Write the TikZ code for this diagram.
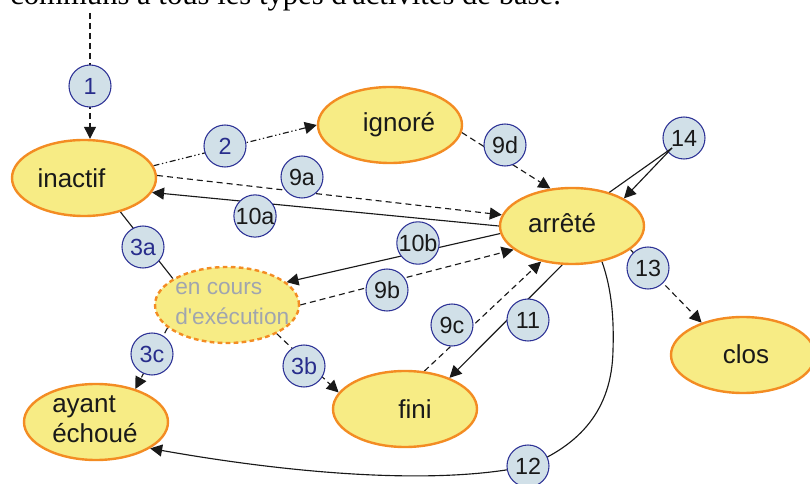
\documentclass[tikz,border=0pt]{standalone}
\usepackage{fontspec}
\setmainfont{Liberation Sans}[Ligatures=TeXOff]
\newfontfamily\serifont{Liberation Serif}
\usetikzlibrary{arrows.meta,shapes.geometric}
\pgfdeclarelayer{bg}
\pgfsetlayers{bg,main}
\definecolor{stfill}{RGB}{247,236,133}
\definecolor{stline}{RGB}{243,140,35}
\definecolor{cfill}{RGB}{209,224,232}
\definecolor{cline}{RGB}{45,50,150}
\definecolor{lblue}{RGB}{40,45,140}
\definecolor{egray}{RGB}{160,165,175}
\begin{document}
\begin{tikzpicture}[x=0.75pt,y=-0.75pt,
 state/.style={ellipse,draw=stline,fill=stfill,line width=1.8pt,minimum width=108pt,minimum height=57pt,inner sep=0pt},
 stxt/.style={inner sep=0pt,text=black!90,font=\fontsize{19.5}{22.5}\selectfont},
 num/.style={circle,draw=cline,fill=cfill,line width=0.8pt,minimum size=31.5pt,inner sep=0pt,font=\fontsize{17.5}{19}\selectfont,text=black!90},
 numb/.style={num,text=lblue},
 conn/.style={line width=0.85pt,draw=black!90},
 tip/.style={-{Triangle[length=9pt,width=9pt]}},
 dsh/.style={dash pattern=on 4.5pt off 3pt},
 ddot/.style={dash pattern=on 4.5pt off 2pt on 1pt off 2pt on 1pt off 2pt}]
\useasboundingbox (0,0) rectangle (810,484);
\clip (0,0) rectangle (810,484);

% top text (cut off)
\node[anchor=base west,inner sep=0pt,font=\serifont\fontsize{23}{26}\selectfont] (toptext) at (10,5) {communs à tous les types d'activités de base.};

% states
\node[state] (inactif) at (84,178) {};
\node[stxt] (tinactif) at (71.5,178) {inactif};
\node[state] (ignore) at (390,125) {};
\node[stxt] (tignore) at (399,125) {ignoré};
\node[state] (arrete) at (572,226) {};
\node[stxt] (tarrete) at (562,223) {arrêté};
\node[state,dash pattern=on 3.5pt off 2.5pt] (encours) at (227,305) {};
\node[stxt,align=left,anchor=west,text=egray,font=\fontsize{17}{22}\selectfont] (tencours) at (175,303.5) {en cours\\d'exécution};
\node[state] (ayant) at (96,422) {};
\node[stxt,align=left,anchor=west] (tayant) at (52,419.5) {ayant\\échoué};
\node[state] (fini) at (405,409) {};
\node[stxt] (tfini) at (415,409) {fini};
\node[state] (clos) at (743,355) {};
\node[stxt] (tclos) at (746,354) {clos};

% numbered circles
\node[numb] (n1) at (90,86) {1};
\node[numb] (n2) at (225,146) {2};
\node[num] (n9a) at (302,177) {9a};
\node[num] (n10a) at (255,216) {10a};
\node[numb] (n3a) at (143,247) {3a};
\node[num] (n9d) at (505,145) {9d};
\node[num] (n14) at (684,138) {14};
\node[num] (n10b) at (418,243) {10b};
\node[num] (n9b) at (387,290) {9b};
\node[num] (n9c) at (452,325) {9c};
\node[num] (n11) at (528,320) {11};
\node[num] (n13) at (648,268) {13};
\node[numb] (n3c) at (152,354) {3c};
\node[numb] (n3b) at (304,366) {3b};
\node[num] (n12) at (528,466) {12};

% connectors
\begin{pgfonlayer}{bg}
\coordinate (c1) at (90,13);
\draw[conn,dsh,tip] (c1) -- (c1 |- inactif.north);
\draw[conn,ddot,tip] (inactif.10) -- (ignore.west);
\draw[conn,dsh,tip] (inactif.2) -- (arrete.171);
\draw[conn,tip] (arrete.west) -- (inactif.-12);
\draw[conn,dsh,tip] (ignore.354) -- (arrete.120);
\draw[conn] (inactif.317) -- (encours.154);
\draw[conn,tip] (arrete.186) -- (encours.21);
\draw[conn,dsh,tip] (encours.east) -- (arrete.202);
\draw[conn,dsh,tip] (encours.201) -- (ayant.40);
\draw[conn,dsh,tip] (encours.330) -- (fini.166);
\draw[conn,dsh,tip] (fini.63) -- (arrete.229);
\draw[conn,tip] (arrete.256) -- (fini.35);
\draw[conn,dsh,tip] (arrete.338) -- (clos.142);
\draw[conn,tip] (arrete.310) .. controls (612,290) and (614,320) .. (613,350)
  .. controls (612,410) and (580,445) .. (n12.center)
  .. controls (440,485) and (300,475) .. (ayant.334);
\end{pgfonlayer}
\coordinate (s14) at (672,148);
\draw[conn] (s14) -- (arrete.42);
\draw[conn,tip] (s14) -- (arrete.28);
\end{tikzpicture}
\end{document}
